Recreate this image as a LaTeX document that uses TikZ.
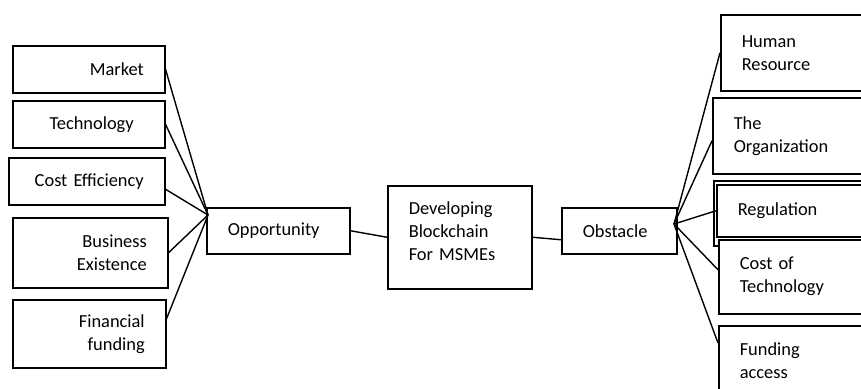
\documentclass[tikz,border=0pt]{standalone}
\usepackage{fontspec}
\setmainfont{Carlito}
\usetikzlibrary{positioning}
\tikzset{%
	box/.style={draw, line width=1.5pt, fill=white, anchor=north west, inner ysep=0pt,
		font=\fontsize{18.4}{23}\selectfont},
	leftbox/.style={box, align=right, inner xsep=21pt},
	rightbox/.style={box, align=left, inner xsep=21pt},
	link/.style={draw, line width=1.4pt}}

\begin{document}
\begin{tikzpicture}[x=1pt, y=-1pt]
		\useasboundingbox (0,0) rectangle (861,388);
		\clip (0,0) rectangle (861,388);
		
		% opportunities
		\node[leftbox, minimum width=152pt, minimum height=47pt, text width=110pt] (Mkt) at (12,45) {Market};
		\node[leftbox, minimum width=152pt, minimum height=47pt, text width=90pt, inner xsep=31pt] (Tech) at (12,100) {Technology};
		\node[leftbox, minimum width=156pt, minimum height=47pt, text width=114pt] (CE) at (8,157) {Cost Efficiency};
		\node[leftbox, minimum width=155pt, minimum height=70pt, text width=113pt] (BE) at (12,217) {Business\\Existence};
		\node[leftbox, minimum width=153pt, minimum height=68pt, text width=111pt] (FF) at (12,299) {Financial\\funding};
		
		% centre
		\node[rightbox, minimum width=143pt, minimum height=46pt, text width=101pt] (Opp) at (206,207) {Opportunity};
		\node[rightbox, minimum width=144pt, minimum height=103pt, text width=102pt] (Dev) at (387,185) {Developing\\Blockchain\\For MSMEs\rule[-12pt]{0pt}{0pt}};
		\node[rightbox, minimum width=115pt, minimum height=46pt, text width=73pt] (Obs) at (561,207) {Obstacle};
		\coordinate (OppHub) at (208,215);
		\coordinate (ObsHub) at (674,224);
		
		% obstacles
		\node[rightbox, minimum width=170pt, minimum height=76pt, text width=128pt] (HR) at (720,14) {Human\\Resource};
		\node[rightbox, minimum width=178pt, minimum height=76pt, text width=136pt] (Org) at (712,97) {The\\Organization};
		\node[box, minimum width=177pt, minimum height=65pt] (RegOut) at (713,180) {};
		\node[rightbox, minimum width=174pt, minimum height=52pt, text width=132pt] (Reg) at (716,184) {Regulation};
		\node[rightbox, minimum width=172pt, minimum height=74pt, text width=130pt] (CoT) at (718,239) {Cost of\\Technology};
		\node[rightbox, minimum width=172pt, minimum height=70pt, text width=130pt] (FA) at (718,325) {Funding\\access};
		
		\path[link] (Mkt.east) -- (OppHub);
		\path[link] (Tech.east) -- (OppHub);
		\path[link] ([yshift=-8pt]CE.east) -- (OppHub);
		\path[link] (BE.east) -- (OppHub);
		\path[link] ([yshift=15pt]FF.east) -- (OppHub);
		
		\path[link] (Opp.east) -- (Dev.west);
		\path[link] (Dev.east) -- ([yshift=-9pt]Obs.west);
		
		\path[link] (ObsHub) -- (HR.west);
		\path[link] (ObsHub) -- ([yshift=-5pt]Org.west);
		\path[link] (ObsHub) -- (Reg.west);
		\path[link] (ObsHub) -- ([yshift=7pt]CoT.west);
		\path[link] (ObsHub) -- ([yshift=-18pt]FA.north west);
	\end{tikzpicture}
\end{document}
